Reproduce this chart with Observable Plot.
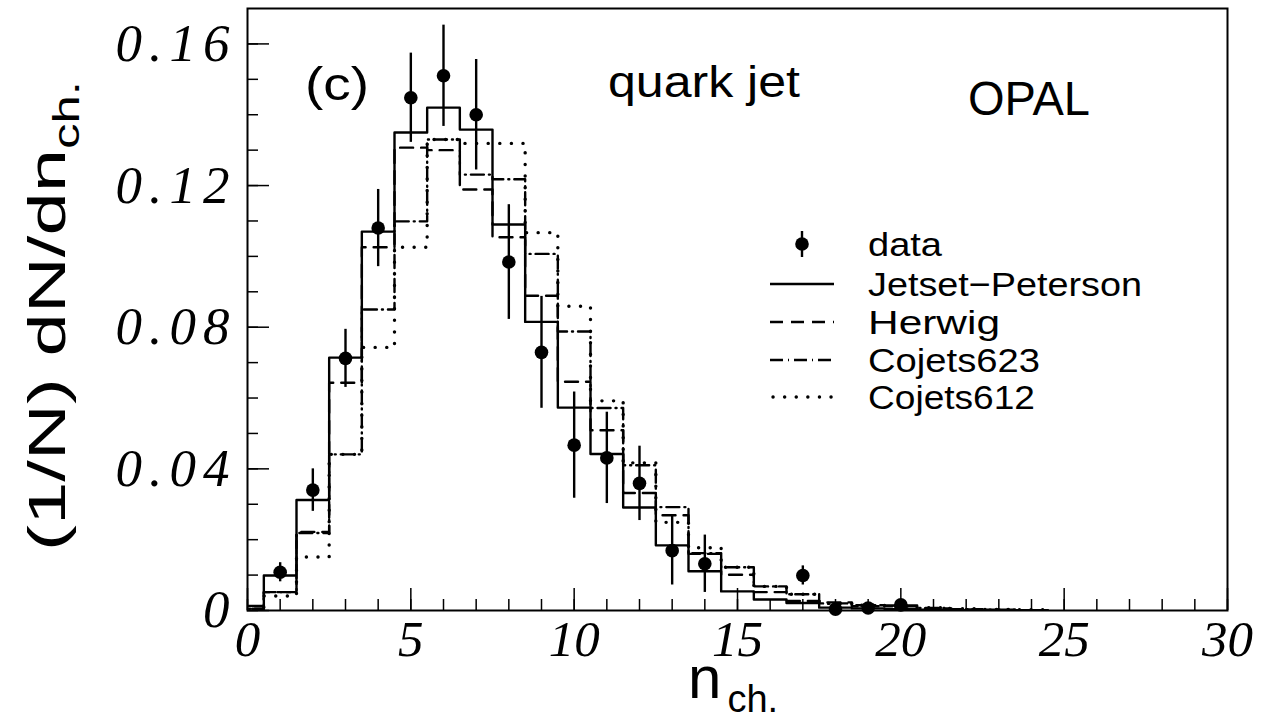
<!DOCTYPE html>
<html><head><meta charset="utf-8">
<script src="https://cdn.jsdelivr.net/npm/d3@7"></script>
<script src="https://cdn.jsdelivr.net/npm/@observablehq/plot@0.6"></script>
<style>body{margin:0;background:#fff;} #wrap{position:relative;width:1266px;height:722px;}</style>
</head><body><div id="wrap"></div>
<script>
// bins n_ch = 0..24
const bins = [0,1,2,3,4,5,6,7,8,9,10,11,12,13,14,15,16,17,18,19,20,21,22,23,24];
const jetset    = [0.0013,0.0099,0.0312,0.0714,0.1070,0.1350,0.1420,0.1358,0.1090,0.0815,0.0573,0.0442,0.0291,0.0184,0.0111,0.0054,0.0031,0.0021,0.0008,0.0006,0.0004,0.0002,0.0001,0.0001,0.0000];
const herwig    = [0.0005,0.0052,0.0222,0.0643,0.1026,0.1307,0.1300,0.1189,0.1054,0.0889,0.0646,0.0509,0.0332,0.0269,0.0160,0.0101,0.0052,0.0027,0.0023,0.0012,0.0014,0.0006,0.0003,0.0002,0.0001];
const cojets623 = [0.0005,0.0052,0.0219,0.0441,0.0850,0.1099,0.1330,0.1231,0.1218,0.1007,0.0788,0.0572,0.0410,0.0292,0.0162,0.0122,0.0068,0.0046,0.0020,0.0015,0.0012,0.0007,0.0004,0.0002,0.0001];
const cojets612 = [0.0003,0.0041,0.0151,0.0441,0.0743,0.1026,0.1330,0.1319,0.1319,0.1067,0.0859,0.0592,0.0417,0.0249,0.0177,0.0122,0.0068,0.0046,0.0020,0.0015,0.0012,0.0008,0.0005,0.0003,0.0002];
// OPAL data points
const dataN   = [1,2,3,4,5,6,7,8,9,10,11,12,13,14,17,18,19,20];
const dataY   = [0.0108,0.0340,0.0712,0.1080,0.1448,0.1510,0.1400,0.0984,0.0729,0.0467,0.0431,0.0359,0.0169,0.0132,0.0099,0.0004,0.0007,0.0016];
const dataErr = [0.0027,0.0060,0.0082,0.0109,0.0126,0.0143,0.0156,0.0162,0.0158,0.0150,0.0129,0.0105,0.0097,0.0081,0.0027,0.0010,0.0008,0.0010];
// ticks
const xMajor = [0,5,10,15,20,25,30];
const xMinor = d3.range(0,31,1);
const yMajor = [0,0.04,0.08,0.12,0.16];
const yMinor = d3.range(0,17).map(i=>i/100);
// legend labels
const legendLabels = ["data","Jetset\u2212Peterson","Herwig","Cojets623","Cojets612"];

function steps(vals){
  const pts = vals.map((v,i)=>({x: bins[i]-0.5, y: v}));
  pts.push({x: bins[bins.length-1]+0.5, y: vals[vals.length-1]});
  pts.push({x: bins[bins.length-1]+0.5, y: 0});
  return pts;
}
const points = dataN.map((n,i)=>({n, y: dataY[i], e: dataErr[i]}));

const SW = 2.4;
const DASH = {herwig:"13 8", c623:"13 5 1 5", c612:"0.1 11.5"};
const chart = Plot.plot({
  width: 1266, height: 722,
  marginLeft: 247, marginRight: 39, marginTop: 8, marginBottom: 112,
  x: {domain: [0,30]},
  y: {domain: [0,0.17]},
  style: {background: "white", overflow: "visible"},
  marks: [
    Plot.line(steps(cojets612), {x:"x", y:"y", curve:"step-after", stroke:"black", strokeWidth:3.4, strokeDasharray:DASH.c612, strokeLinecap:"round", clip:true}),
    Plot.line(steps(cojets623), {x:"x", y:"y", curve:"step-after", stroke:"black", strokeWidth:SW, strokeDasharray:DASH.c623, clip:true}),
    Plot.line(steps(herwig), {x:"x", y:"y", curve:"step-after", stroke:"black", strokeWidth:SW, strokeDasharray:DASH.herwig, clip:true}),
    Plot.line(steps(jetset), {x:"x", y:"y", curve:"step-after", stroke:"black", strokeWidth:SW, clip:true}),
    Plot.ruleX(points, {x:"n", y1: d=>d.y-d.e, y2: d=>d.y+d.e, stroke:"black", strokeWidth:SW}),
    Plot.dot(points, {x:"n", y:"y", r:6.8, fill:"black", stroke:"none"}),
    Plot.frame({stroke:"black", strokeWidth:2}),
    Plot.axisX(xMinor, {tickSize:-11, tickFormat:()=>"", label:null, strokeWidth:1.5}),
    Plot.axisX(xMajor, {tickSize:-22, tickFormat:()=>"", label:null, strokeWidth:1.5}),
    Plot.axisY(yMinor, {tickSize:-11, tickFormat:()=>"", label:null, strokeWidth:1.5}),
    Plot.axisY(yMajor, {tickSize:-22, tickFormat:()=>"", label:null, strokeWidth:1.5}),
    Plot.axisX(xMajor, {tickSize:0, tickPadding:9, label:null, tickFormat:d=>String(d), fontSize:51, fontStyle:"italic", fontFamily:"Liberation Serif", fill:"black"}),
    Plot.axisY(yMajor, {tickSize:0, tickPadding:18, label:null, tickFormat:d=>d===0?"0":d.toFixed(2), fontSize:53, fontStyle:"italic", fontFamily:"Liberation Serif", fill:"black"})
  ]
});
document.getElementById("wrap").appendChild(chart);

const svg = d3.select(chart);
// widen the decimal y tick labels like the original
svg.selectAll("g[aria-label='y-axis tick label'] text").each(function(){
  const s = this.textContent;
  if (s.length > 1) d3.select(this).attr("textLength", 114).attr("lengthAdjust","spacing");
});

const sans = "'Liberation Sans', Arial, sans-serif";
function txt(x, y, s, size, len){
  const t = svg.append("text").attr("x", x).attr("y", y).attr("text-anchor","start")
    .attr("font-family", sans).attr("font-size", size).attr("fill","black").text(s);
  if (len) t.attr("textLength", len).attr("lengthAdjust","spacingAndGlyphs");
  return t;
}
txt(305, 100, "(c)", 46, 64);
txt(608, 97, "quark jet", 44, 192);
txt(968, 115, "OPAL", 48, 122);

// y axis label
const yl = svg.append("text").attr("transform","translate(65,316) rotate(-90)").attr("text-anchor","middle")
  .attr("font-family", sans).attr("font-size", 52).attr("fill","black");
yl.append("tspan").attr("textLength", 402).attr("lengthAdjust","spacingAndGlyphs").text("(1/N) dN/dn");
yl.append("tspan").attr("font-size",36).attr("dy",14).attr("textLength", 68).attr("lengthAdjust","spacingAndGlyphs").text("ch.");
// x axis label
const xl = svg.append("text").attr("x", 688).attr("y", 698).attr("text-anchor","start")
  .attr("font-family", sans).attr("font-size", 60).attr("fill","black");
xl.append("tspan").text("n");
xl.append("tspan").attr("font-size",38).attr("dy",14).attr("dx",6).text("ch.");

// legend
const lg = svg.append("g");
const rowY = [244, 284, 322, 360, 397];
const rowLen = [74, 274, 132, 172, 167];
const rowDash = [null, null, DASH.herwig, DASH.c623, DASH.c612];
legendLabels.forEach((label,i)=>{
  const y = rowY[i];
  if (i===0){
    lg.append("line").attr("x1",802).attr("x2",802).attr("y1",y-13).attr("y2",y+13).attr("stroke","black").attr("stroke-width",SW);
    lg.append("circle").attr("cx",802).attr("cy",y).attr("r",6.8).attr("fill","black");
  } else {
    const l = lg.append("line").attr("x1",770).attr("x2",834).attr("y1",y).attr("y2",y).attr("stroke","black").attr("stroke-width", i===4?3.4:SW);
    if (rowDash[i]) l.attr("stroke-dasharray", rowDash[i]);
    if (i===4) l.attr("stroke-linecap","round").attr("x1",773);
  }
  lg.append("text").attr("x",868).attr("y",y+12).attr("text-anchor","start").attr("font-family",sans).attr("font-size",34).attr("fill","black")
    .attr("textLength", rowLen[i]).attr("lengthAdjust","spacingAndGlyphs").text(label);
});
</script>
</body></html>
